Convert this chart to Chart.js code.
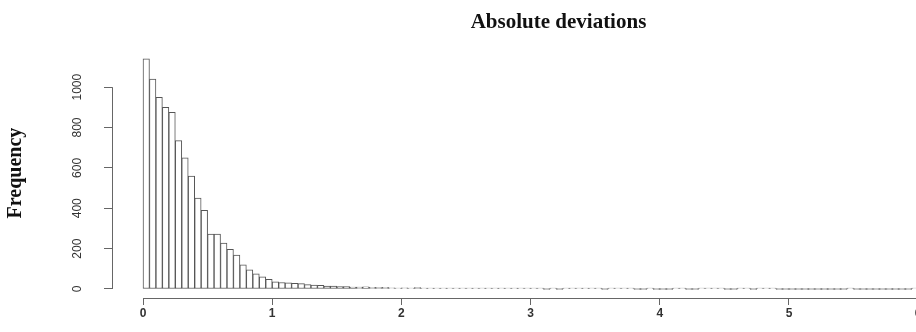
<!DOCTYPE html>
<html>
<head>
<meta charset="utf-8">
<script src="https://cdn.jsdelivr.net/npm/chart.js@4.4.0/dist/chart.umd.min.js"></script>
<style>
  html, body { margin: 0; padding: 0; background: #fff; overflow: hidden; }
</style>
</head>
<body>
<canvas id="hist" width="1010" height="332"></canvas>
<script>
// histogram of absolute deviations, bins of 0.05 starting at 0
const binWidth = 0.05;
const counts = [
  1140, 1040, 950, 900, 875, 735, 650, 560, 450, 390,
  272, 272, 228, 196, 168, 120, 95, 75, 60, 48,
  35, 32, 30, 28, 27, 22, 20, 18, 15, 14,
  12, 12, 10, 9, 11, 8, 7, 8, 6, 5,
  6, 5, 7, 5, 4, 5, 3, 4, 3, 2,
  3, 2, 2, 2, 2, 2, 1, 2, 1, 1,
  1, 1, 0, 1, 0, 1, 1, 1, 1, 1,
  1, 0, 1, 1, 1, 1, 0, 0, 1, 0,
  0, 0, 1, 1, 0, 0, 1, 1, 1, 1,
  0, 0, 1, 1, 0, 1, 1, 1, 0, 0,
  0, 0, 0, 0, 0, 0, 0, 0, 0, 1,
  0, 0, 0, 0, 0, 0, 0, 0, 0, 1
];
const xTicks = [0, 1, 2, 3, 4, 5, 6];
const yTicks = [0, 200, 400, 600, 800, 1000];

const points = counts.map((c, i) => ({ x: (i + 0.5) * binWidth, y: c }));

// R style axes: line only from first to last tick
const rAxes = {
  id: 'rAxes',
  afterDraw(chart) {
    const { ctx, chartArea, scales } = chart;
    ctx.save();
    ctx.strokeStyle = '#666';
    ctx.lineWidth = 1;
    ctx.beginPath();
    const yb = Math.round(chartArea.bottom) + 0.5;
    ctx.moveTo(scales.x.getPixelForValue(xTicks[0]), yb);
    ctx.lineTo(scales.x.getPixelForValue(xTicks[xTicks.length - 1]), yb);
    const xl = Math.round(chartArea.left) + 0.5;
    ctx.moveTo(xl, scales.y.getPixelForValue(yTicks[0]));
    ctx.lineTo(xl, scales.y.getPixelForValue(yTicks[yTicks.length - 1]));
    ctx.stroke();
    ctx.restore();
  }
};

new Chart(document.getElementById('hist'), {
  type: 'bar',
  data: {
    datasets: [{
      data: points,
      backgroundColor: '#fff',
      borderColor: '#555',
      borderWidth: 1,
      borderSkipped: false,
      minBarLength: 1,
      barPercentage: 1,
      categoryPercentage: 1
    }]
  },
  options: {
    responsive: false,
    animation: false,
    layout: { padding: { right: 5 } },
    plugins: {
      legend: { display: false },
      tooltip: { enabled: false },
      title: {
        display: true,
        text: 'Absolute deviations',
        fullSize: false,
        color: '#111',
        font: { family: 'Liberation Serif', size: 21, weight: 'bold' },
        padding: { top: 10, bottom: 13 }
      }
    },
    scales: {
      x: {
        type: 'linear',
        offset: false,
        min: -0.24,
        max: 6.672,
        afterBuildTicks: s => { s.ticks = xTicks.map(v => ({ value: v })); },
        afterFit: s => { s.height = 34; },
        border: { display: false },
        grid: { offset: false, drawOnChartArea: false, drawTicks: true, tickLength: 7, color: '#666' },
        ticks: {
          padding: 1,
          color: '#333',
          font: { family: 'Liberation Sans', size: 12, weight: 'bold' },
          callback: v => String(v)
        }
      },
      y: {
        min: -44.6,
        max: 1193,
        afterBuildTicks: s => { s.ticks = yTicks.map(v => ({ value: v })); },
        afterFit: s => { s.width = 112; },
        border: { display: false },
        grid: { offset: false, drawOnChartArea: false, drawTicks: true, tickLength: 8, color: '#666' },
        ticks: {
          minRotation: 90,
          maxRotation: 90,
          crossAlign: 'center',
          padding: 13,
          color: '#333',
          font: { family: 'Liberation Sans', size: 12 },
          callback: v => String(v)
        },
        title: {
          display: true,
          text: 'Frequency',
          color: '#111',
          font: { family: 'Liberation Serif', size: 20, weight: 'bold' },
          padding: { top: 4 }
        }
      }
    }
  },
  plugins: [rAxes]
});
</script>
</body>
</html>
